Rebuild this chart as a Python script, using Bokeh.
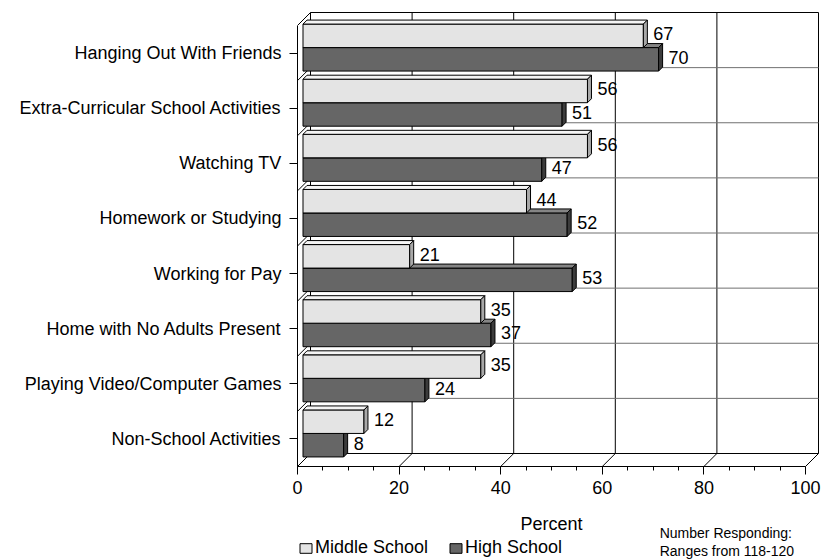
from bokeh.plotting import figure
from bokeh.layouts import column
from bokeh.models import (Range1d, FixedTicker, SingleIntervalTicker, Label,
                          Legend, LegendItem, ColumnDataSource)
from bokeh.embed import file_html
from bokeh.resources import INLINE
from bokeh.core.properties import value

# ---------------- data ----------------
categories = ["Hanging Out With Friends",
              "Extra-Curricular School Activities",
              "Watching TV",
              "Homework or Studying",
              "Working for Pay",
              "Home with No Adults Present",
              "Playing Video/Computer Games",
              "Non-School Activities"]
middle_school = [67, 56, 56, 44, 21, 35, 35, 12]
high_school = [70, 51, 47, 52, 53, 37, 24, 8]
x_ticks = [0, 20, 40, 60, 80, 100]
series_names = ["Middle School", "High School"]
axis_title = "Percent"
note_lines = ["Number Responding:", "Ranges from 118-120"]

# ---------------- layout / style ----------------
FONT = "Liberation Sans"
W = 823
H_MAIN, H_STRIP = 505, 55
LEFT, RIGHT, TOP, BOTTOM = 297, 3, 2, 39
frame_w = W - LEFT - RIGHT
frame_h = H_MAIN - TOP - BOTTOM
n = len(categories)
X_MAX = 100
PX_X = 5.08               # px per percent
PX_Y = 441.0 / n          # px per category band
X_END = frame_w / PX_X


def dx(px):
    return px / PX_X


def dy(px):
    return px / PX_Y


WALL_X, WALL_Y = dx(13), dy(13)      # wall depth
OFF_X, OFF_Y = dx(5.5), dy(5.5)      # bar depth position
BD_X, BD_Y = dx(4), dy(4)            # bar depth
BAR_H = dy(23.5)

LIGHT = dict(front="#E4E4E4", top="#F4F4F4", side="#A8A8A8")
DARK = dict(front="#666666", top="#858585", side="#3C3C3C")

p = figure(width=W, height=H_MAIN, output_backend="svg", toolbar_location=None,
           x_range=Range1d(0, X_END), y_range=Range1d(0, frame_h / PX_Y),
           min_border_left=LEFT, min_border_right=RIGHT,
           min_border_top=TOP, min_border_bottom=BOTTOM)
p.outline_line_color = None
p.grid.visible = False
p.background_fill_color = "white"
p.border_fill_color = "white"

# ---------------- walls & gridlines ----------------
p.quad(left=[WALL_X], right=[X_MAX + WALL_X], bottom=[WALL_Y], top=[n + WALL_Y],
       fill_color="white", line_color="black", line_width=1)
inner = [t for t in x_ticks if 0 < t < X_MAX]
p.segment(x0=[t + WALL_X for t in inner], y0=[WALL_Y] * len(inner),
          x1=[t + WALL_X for t in inner], y1=[n + WALL_Y] * len(inner),
          line_color="black", line_width=1)
ks = list(range(1, n))
p.segment(x0=[WALL_X] * len(ks), y0=[k + WALL_Y for k in ks],
          x1=[X_MAX + WALL_X] * len(ks), y1=[k + WALL_Y for k in ks],
          line_color="#707070", line_width=1)
ks_all = list(range(0, n + 1))
p.segment(x0=[0] * len(ks_all), y0=ks_all,
          x1=[WALL_X] * len(ks_all), y1=[k + WALL_Y for k in ks_all],
          line_color="black", line_width=1)
p.segment(x0=x_ticks, y0=[0] * len(x_ticks),
          x1=[t + WALL_X for t in x_ticks], y1=[WALL_Y] * len(x_ticks),
          line_color="black", line_width=1)

# ---------------- bars ----------------
centers = [n - 0.5 - i for i in range(n)]
pair_mid = [c + OFF_Y for c in centers]


def draw_series(vals, bottoms, tops, col):
    left = [OFF_X] * len(vals)
    right = [v + OFF_X for v in vals]
    p.quad(left=left, right=right, bottom=bottoms, top=tops,
           fill_color=col["front"], line_color="black", line_width=1)
    top_xs = [[l, r, r + BD_X, l + BD_X] for l, r in zip(left, right)]
    top_ys = [[t, t, t + BD_Y, t + BD_Y] for t in tops]
    p.patches(xs=top_xs, ys=top_ys, fill_color=col["top"], line_color="black", line_width=1)
    side_xs = [[r, r + BD_X, r + BD_X, r] for r in right]
    side_ys = [[b, b + BD_Y, t + BD_Y, t] for b, t in zip(bottoms, tops)]
    p.patches(xs=side_xs, ys=side_ys, fill_color=col["side"], line_color="black", line_width=1)
    src = ColumnDataSource(dict(x=[v + OFF_X + BD_X + dx(6) for v in vals],
                                y=[(b + t) / 2 + dy(2) for b, t in zip(bottoms, tops)],
                                text=[str(v) for v in vals]))
    p.text(x="x", y="y", text="text", source=src, text_font=value(FONT),
           text_font_size="18px", text_baseline="middle", text_align="left",
           text_color="black")


draw_series(high_school, [m - BAR_H for m in pair_mid], pair_mid, DARK)
draw_series(middle_school, pair_mid, [m + BAR_H for m in pair_mid], LIGHT)

# ---------------- axes ----------------
xa = p.xaxis[0]
xa.ticker = SingleIntervalTicker(interval=20, num_minor_ticks=4)
xa.bounds = (0, X_MAX)
xa.major_tick_out = 8
xa.major_tick_in = 0
xa.minor_tick_out = 4
xa.minor_tick_in = 0
xa.major_label_text_font = FONT
xa.major_label_text_font_size = "18px"
xa.major_label_text_color = "black"
xa.major_label_standoff = 6
xa.axis_line_color = "black"
xa.major_tick_line_color = "black"
xa.minor_tick_line_color = "black"

ya = p.yaxis[0]
ya.ticker = FixedTicker(ticks=centers)
ya.major_label_overrides = {c: lab for c, lab in zip(centers, categories)}
ya.bounds = (0, n)
ya.major_tick_out = 8
ya.major_tick_in = 0
ya.minor_tick_out = 0
ya.minor_tick_in = 0
ya.major_label_text_font = FONT
ya.major_label_text_font_size = "18px"
ya.major_label_text_color = "black"
ya.major_label_standoff = 8
ya.axis_line_color = "black"
ya.major_tick_line_color = "black"

# ---------------- strip below: axis title, legend, note ----------------
s = figure(width=W, height=H_STRIP, output_backend="svg", toolbar_location=None,
           x_range=Range1d(0, X_END), y_range=Range1d(H_STRIP, 0),
           x_axis_type=None, y_axis_type=None,
           min_border_left=LEFT, min_border_right=RIGHT,
           min_border_top=0, min_border_bottom=0)
s.outline_line_color = None
s.grid.visible = False
s.background_fill_color = "white"
s.border_fill_color = "white"

s.add_layout(Label(x=50, y=18, text=axis_title, text_align="center",
                   text_baseline="middle", text_font=FONT, text_font_size="18px",
                   text_color="black"))
for j, line in enumerate(note_lines):
    s.add_layout(Label(x=71.3, y=27 + 18 * j, text=line, text_align="left",
                       text_baseline="middle", text_font=FONT, text_font_size="14px",
                       text_color="black"))

# legend keys: zero-size, hidden renderers that only carry the styles
sw_light = s.quad(left=[0], right=[0], bottom=[0], top=[0], visible=False,
                  fill_color=LIGHT["front"], line_color="black", line_width=1)
sw_dark = s.quad(left=[0], right=[0], bottom=[0], top=[0], visible=False,
                 fill_color=DARK["front"], line_color="black", line_width=1)
legend = Legend(items=[LegendItem(label=series_names[0], renderers=[sw_light]),
                       LegendItem(label=series_names[1], renderers=[sw_dark])],
                orientation="horizontal", location=(1, 2),
                border_line_color=None, background_fill_alpha=0,
                inactive_fill_alpha=0,
                label_text_font=FONT, label_text_font_size="18px",
                label_text_color="black",
                glyph_width=15, glyph_height=12, label_height=18,
                padding=0, margin=0, spacing=20, label_standoff=2)
s.add_layout(legend)

layout = column(p, s, spacing=0)
open("out.html", "w").write(file_html(layout, INLINE))
